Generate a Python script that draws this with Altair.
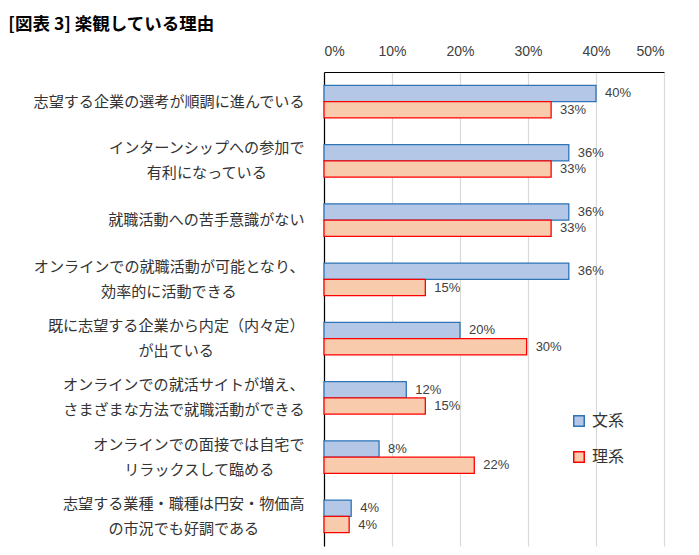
import altair as alt
import pandas as pd

title_text = "[図表 3] 楽観している理由"

line1 = [
    "志望する企業の選考が順調に進んでいる",
    "インターンシップへの参加で",
    "就職活動への苦手意識がない",
    "オンラインでの就職活動が可能となり、",
    "既に志望する企業から内定（内々定）",
    "オンラインでの就活サイトが増え、",
    "オンラインでの面接では自宅で",
    "志望する業種・職種は円安・物価高",
]
line2 = [
    "",
    "有利になっている",
    "",
    "効率的に活動できる",
    "が出ている",
    "さまざまな方法で就職活動ができる",
    "リラックスして臨める",
    "の市況でも好調である",
]

series = ["文系", "理系"]
bunkei = [40.0, 36.0, 36.0, 36.0, 20.0, 12.1, 8.1, 4.0]
rikei = [33.4, 33.4, 33.4, 14.9, 29.8, 14.9, 22.1, 3.7]

x_ticks = [0, 10, 20, 30, 40, 50]


def make_label(a, b):
    if not b:
        return a
    d = len(a) - len(b)
    pad = "\u3000" * (abs(d) // 2) + ("\u2002" if abs(d) % 2 else "")
    if d > 0:
        b = b + pad + "\u2060"
    elif d < 0:
        a = a + pad + "\u2060"
    return a + "\n" + b


categories = [make_label(a, b) for a, b in zip(line1, line2)]

rows = []
for c, v in zip(categories, bunkei):
    rows.append({"cat": c, "series": series[0], "value": v})
for c, v in zip(categories, rikei):
    rows.append({"cat": c, "series": series[1], "value": v})
df = pd.DataFrame(rows)

FONT = "Noto Sans CJK JP"
NUM_FONT = "Liberation Sans"

y_enc = alt.Y(
    "cat:N",
    sort=categories,
    scale=alt.Scale(paddingInner=0.45, paddingOuter=0.225),
    axis=alt.Axis(
        title=None,
        ticks=False,
        domainColor="#000000",
        domainWidth=1.2,
        labelExpr="split(datum.label, '\\n')",
        labelFontSize=15.1,
        labelLineHeight=25,
        labelColor="#333333",
        labelPadding=20,
        labelLimit=400,
        labelFont=FONT,
        labelOffset={
            "condition": {"test": "indexof(datum.value, '\\n') >= 0", "value": -12.5},
            "value": 0,
        },
    ),
)
yoff = alt.YOffset("series:N", sort=series, scale=alt.Scale(paddingInner=0, paddingOuter=0))
x_enc = alt.X(
    "value:Q",
    scale=alt.Scale(domain=[0, 50], nice=False),
    axis=alt.Axis(
        orient="top",
        title=None,
        values=x_ticks,
        ticks=False,
        labelExpr="datum.value + '%'",
        labelFontSize=14,
        labelColor="#404040",
        labelPadding=14,
        labelFont=NUM_FONT,
        domainColor="#000000",
        domainWidth=1.2,
        grid=True,
        gridColor="#d9d9d9",
        gridWidth=1.2,
    ),
)

bars = alt.Chart(df).mark_bar(strokeWidth=1.3).encode(
    x=x_enc,
    y=y_enc,
    yOffset=yoff,
    fill=alt.Fill(
        "series:N",
        sort=series,
        scale=alt.Scale(domain=series, range=["#b4c7e7", "#f8cbad"]),
        legend=alt.Legend(title=None),
    ),
    stroke=alt.Stroke(
        "series:N",
        sort=series,
        scale=alt.Scale(domain=series, range=["#2e75b6", "#ff0000"]),
        legend=alt.Legend(title=None),
    ),
)

labels = alt.Chart(df).transform_calculate(
    lab="format(datum.value, '.0f') + '%'"
).mark_text(align="left", baseline="middle", dx=9, fontSize=13, color="#404040", font=NUM_FONT).encode(
    x=alt.X("value:Q"),
    y=alt.Y("cat:N", sort=categories),
    yOffset=alt.YOffset("series:N", sort=series),
    text="lab:N",
)

chart = (
    alt.layer(bars, labels)
    .properties(
        width=340,
        height=474,
        padding={"left": 0, "top": 7, "right": 10, "bottom": 2},
        title=alt.TitleParams(
            title_text,
            anchor="start",
            frame="bounds",
            dx=-24,
            fontSize=17.5,
            font=FONT,
            fontWeight="bold",
            color="#000000",
            offset=11,
        ),
    )
    .configure_view(strokeWidth=0)
    .configure_legend(
        orient="none",
        legendX=247,
        legendY=341,
        labelFontSize=16,
        labelFont=FONT,
        labelColor="#333333",
        symbolType="square",
        symbolSize=110,
        symbolStrokeWidth=1.5,
        rowPadding=18,
        labelOffset=5,
    )
)

chart.save("out.html", embed_options={"renderer": "svg", "actions": False})
